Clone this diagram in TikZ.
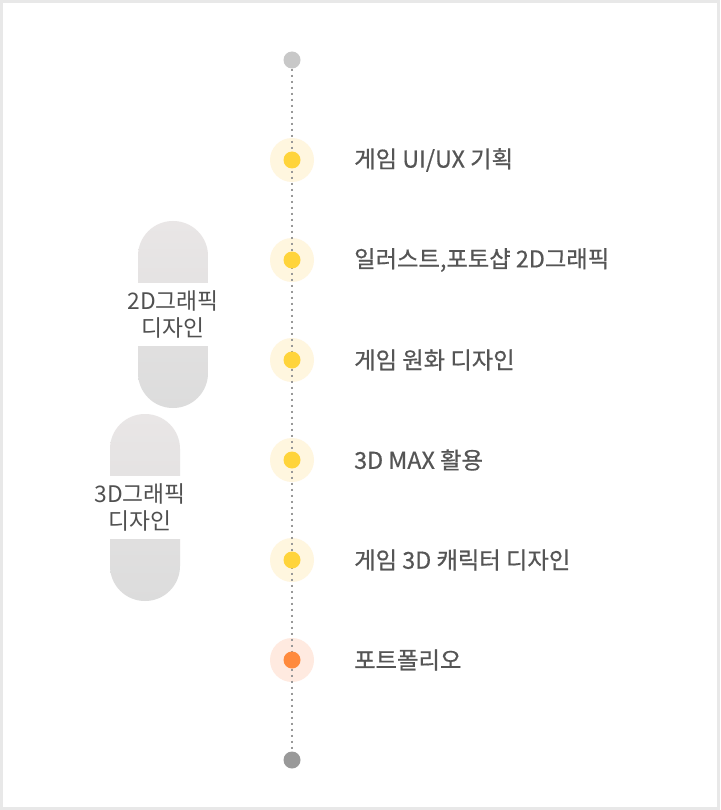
\documentclass[tikz,border=0pt]{standalone}
\usepackage{fontspec}
\setmainfont{Noto Sans CJK KR}
\newfontfamily\lblfont[FakeBold=0.6]{Noto Sans CJK KR}
\definecolor{framegray}{HTML}{E8E8E8}
\definecolor{txtgray}{HTML}{555555}
\definecolor{pilltxt}{HTML}{505050}
\definecolor{pilltop}{HTML}{E9E6E6}
\definecolor{pillbot}{HTML}{DCDCDC}
\definecolor{linegray}{HTML}{999999}
\definecolor{topdot}{HTML}{C8C8C8}
\definecolor{botdot}{HTML}{999999}
\definecolor{ydot}{HTML}{FFD43B}
\definecolor{yhalo}{HTML}{FFF6DF}
\definecolor{odot}{HTML}{FF8A3D}
\definecolor{ohalo}{HTML}{FFEAE0}
\tikzset{
  halo/.style={circle, inner sep=0pt, minimum size=44pt, fill=#1},
  dotnode/.style={circle, inner sep=0pt, minimum size=17pt, fill=#1},
  itemlabel/.style={anchor=west, inner sep=0pt, text=txtgray, font=\lblfont\fontsize{23.3}{26}\selectfont},
  pilllabel/.style={align=center, inner sep=0pt, text=pilltxt, font=\fontsize{22.8}{27}\selectfont}
}
\begin{document}
\begin{tikzpicture}[x=1pt,y=-1pt]
\useasboundingbox (0,0) rectangle (720,810);
\fill[framegray] (0,0) rectangle (720,810);
\fill[white] (3,3) rectangle (717,807);
% pills
\shade[top color=pilltop, bottom color=pillbot, rounded corners=34.9pt] (138,221) rectangle (208,408);
\fill[white] (136,283) rectangle (210,346);
\node[pilllabel] (p2d) at (173,314) {2D그래픽\\디자인};
\shade[top color=pilltop, bottom color=pillbot, rounded corners=34.9pt] (110,414) rectangle (180,601);
\fill[white] (108,476) rectangle (182,539);
\node[pilllabel] (p3d) at (140,507) {3D그래픽\\디자인};
% halos
\foreach \i/\y in {1/160,2/260,3/360,4/460,5/560}{
  \node[halo=yhalo] (h\i) at (292,\y) {};
}
\node[halo=ohalo] (h6) at (292,660) {};
% timeline ends
\node[dotnode=topdot] (top) at (292,60) {};
\node[dotnode=botdot] (bot) at (292,760) {};
\draw[linegray, line width=2pt, dash pattern=on 2pt off 4pt] (top.south) -- (bot.north);
% dots
\foreach \i/\y in {1/160,2/260,3/360,4/460,5/560}{
  \node[dotnode=ydot] (d\i) at (292,\y) {};
}
\node[dotnode=odot] (d6) at (292,660) {};
% labels
\node[itemlabel] (t1) at (354,160) {게임 UI/UX 기획};
\node[itemlabel] (t2) at (354,260) {일러스트,포토샵 2D그래픽};
\node[itemlabel] (t3) at (354,360) {게임 원화 디자인};
\node[itemlabel] (t4) at (354,460) {3D MAX 활용};
\node[itemlabel] (t5) at (354,560) {게임 3D 캐릭터 디자인};
\node[itemlabel] (t6) at (354,660) {포트폴리오};
\end{tikzpicture}
\end{document}
